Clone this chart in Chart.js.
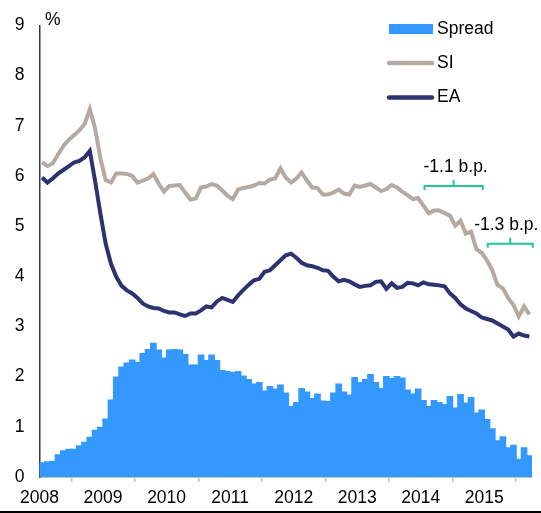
<!DOCTYPE html>
<html>
<head>
<meta charset="utf-8">
<script src="https://cdn.jsdelivr.net/npm/chart.js@4.4.1/dist/chart.umd.min.js"></script>
<style>
    html, body { margin: 0; padding: 0; background: #fff; }
    #wrap { position: relative; width: 541px; height: 513px; }
</style>
</head>
<body>
<div id="wrap"><canvas id="spreadChart"></canvas></div>
<script>
// monthly data, Jan 2008 .. Sep 2015
const years = ['2008', '2009', '2010', '2011', '2012', '2013', '2014', '2015'];

const spread = [
    0.28, 0.30, 0.31, 0.44, 0.52, 0.55, 0.55, 0.62, 0.69, 0.79, 0.93, 0.99,
    1.15, 1.53, 1.99, 2.19, 2.27, 2.33, 2.28, 2.46, 2.54, 2.66, 2.53, 2.37,
    2.53, 2.54, 2.53, 2.44, 2.23, 2.23, 2.43, 2.32, 2.43, 2.32, 2.12, 2.10,
    2.08, 2.10, 2.01, 1.94, 1.85, 1.88, 1.71, 1.80, 1.75, 1.83, 1.67, 1.40,
    1.48, 1.76, 1.69, 1.56, 1.65, 1.51, 1.50, 1.67, 1.85, 1.69, 1.63, 1.98,
    1.88, 1.94, 2.04, 1.88, 1.76, 2.00, 1.96, 2.00, 1.97, 1.73, 1.65, 1.75,
    1.52, 1.40, 1.52, 1.48, 1.44, 1.60, 1.37, 1.64, 1.47, 1.58, 1.27, 1.33,
    1.14, 0.96, 0.72, 0.80, 0.58, 0.63, 0.35, 0.58, 0.42
];

const si = [
    6.27, 6.20, 6.25, 6.43, 6.60, 6.72, 6.81, 6.91, 7.03, 7.33, 6.95, 6.35,
    5.92, 5.87, 6.05, 6.05, 6.04, 6.00, 5.87, 5.91, 5.95, 6.04, 5.85, 5.69,
    5.80, 5.81, 5.82, 5.67, 5.53, 5.55, 5.77, 5.79, 5.84, 5.81, 5.71, 5.61,
    5.54, 5.73, 5.76, 5.78, 5.81, 5.86, 5.85, 5.93, 5.95, 6.15, 5.97, 5.87,
    5.95, 6.07, 5.91, 5.77, 5.76, 5.63, 5.63, 5.67, 5.73, 5.65, 5.63, 5.81,
    5.78, 5.81, 5.84, 5.77, 5.70, 5.74, 5.82, 5.77, 5.69, 5.62, 5.54, 5.56,
    5.41, 5.26, 5.31, 5.31, 5.26, 5.21, 5.01, 5.11, 4.85, 4.89, 4.54, 4.47,
    4.32, 4.12, 3.83, 3.76, 3.57, 3.43, 3.20, 3.40, 3.24
];

const ea = [
    5.97, 5.87, 5.95, 6.05, 6.12, 6.19, 6.27, 6.30, 6.37, 6.50, 5.90, 5.25,
    4.65, 4.25, 3.99, 3.81, 3.72, 3.66, 3.57, 3.46, 3.40, 3.37, 3.36, 3.31,
    3.28, 3.28, 3.24, 3.21, 3.26, 3.26, 3.32, 3.40, 3.38, 3.50, 3.57, 3.53,
    3.49, 3.62, 3.73, 3.83, 3.92, 3.95, 4.09, 4.12, 4.22, 4.32, 4.42, 4.45,
    4.37, 4.27, 4.22, 4.20, 4.17, 4.12, 4.11, 3.99, 3.90, 3.93, 3.90, 3.84,
    3.79, 3.81, 3.82, 3.89, 3.90, 3.75, 3.86, 3.77, 3.79, 3.87, 3.86, 3.82,
    3.88, 3.84, 3.83, 3.82, 3.80, 3.66, 3.57, 3.44, 3.36, 3.31, 3.26, 3.18,
    3.15, 3.12, 3.06, 3.00, 2.94, 2.80, 2.86, 2.82, 2.80
];

const seriesNames = ['Spread', 'SI', 'EA'];
const noteTexts = ['-1.1 b.p.', '-1.3 b.p.'];

const FONT = '"Liberation Sans", Arial, sans-serif';
const BLUE = '#3399ff';
const SI_COLOR = '#b5aaa2';
const EA_COLOR = '#2d336f';
const NOTE_COLOR = '#22c995';

const toPoints = arr => arr.map((v, i) => ({ x: i + 0.5, y: v }));

// legend, % label, bracket notes, frame line
const extras = {
    id: 'extras',
    afterDraw(chart) {
        const ctx = chart.ctx;
        const xs = chart.scales.x;
        const ys = chart.scales.y;
        ctx.save();
        ctx.fillStyle = '#000';
        ctx.font = '17.5px ' + FONT;
        ctx.textBaseline = 'middle';
        ctx.textAlign = 'left';
        ctx.fillText('%', 45, 20);

        // legend
        ctx.fillStyle = BLUE;
        ctx.fillRect(389, 24, 44, 10);
        ctx.lineCap = 'round';
        ctx.lineWidth = 4.5;
        ctx.strokeStyle = SI_COLOR;
        ctx.beginPath(); ctx.moveTo(389, 63); ctx.lineTo(432, 63); ctx.stroke();
        ctx.strokeStyle = EA_COLOR;
        ctx.beginPath(); ctx.moveTo(389, 97.5); ctx.lineTo(432, 97.5); ctx.stroke();
        ctx.fillStyle = '#000';
        ctx.fillText(seriesNames[0], 437, 29);
        ctx.fillText(seriesNames[1], 437, 63);
        ctx.fillText(seriesNames[2], 437, 97.5);

        // brackets
        const brackets = [
            { from: 72.7, to: 83.7, level: 5.8, label: 6.17, shift: 2 },
            { from: 84.65, to: 93.15, level: 4.65, label: 5.01, shift: -4 }
        ];
        ctx.strokeStyle = NOTE_COLOR;
        ctx.lineWidth = 2;
        ctx.lineCap = 'butt';
        brackets.forEach((b, k) => {
            const x1 = xs.getPixelForValue(b.from);
            const x2 = xs.getPixelForValue(b.to);
            const y = ys.getPixelForValue(b.level);
            const xm = (x1 + x2) / 2;
            ctx.beginPath();
            ctx.moveTo(x1, y + 4); ctx.lineTo(x1, y); ctx.lineTo(x2, y); ctx.lineTo(x2, y + 4);
            ctx.moveTo(xm, y); ctx.lineTo(xm, y - 6);
            ctx.stroke();
            ctx.textAlign = 'center';
            ctx.fillStyle = '#000';
            ctx.fillText(noteTexts[k], xm + b.shift, ys.getPixelForValue(b.label));
        });

        // bottom frame line
        ctx.fillStyle = '#000';
        ctx.fillRect(0, 511, chart.width, 2);
        ctx.restore();
    }
};

new Chart(document.getElementById('spreadChart'), {
    type: 'bar',
    data: {
        datasets: [
            {
                type: 'line',
                label: 'EA',
                data: toPoints(ea),
                borderColor: EA_COLOR,
                borderWidth: 4,
                pointRadius: 0,
                tension: 0,
                order: 1
            },
            {
                type: 'line',
                label: 'SI',
                data: toPoints(si),
                borderColor: SI_COLOR,
                borderWidth: 4,
                pointRadius: 0,
                tension: 0,
                order: 2
            },
            {
                label: 'Spread',
                data: toPoints(spread),
                backgroundColor: BLUE,
                borderWidth: 0,
                inflateAmount: 0.7,
                barPercentage: 1,
                categoryPercentage: 1,
                order: 3
            }
        ]
    },
    options: {
        responsive: true,
        maintainAspectRatio: false,
        animation: false,
        layout: { padding: { top: 20, right: 9, left: 0, bottom: 0 } },
        plugins: {
            legend: { display: false },
            tooltip: { enabled: false }
        },
        scales: {
            x: {
                type: 'linear',
                min: 0,
                max: 93,
                offset: false,
                afterFit: scale => { scale.height = 36; },
                grid: {
                    display: true,
                    drawOnChartArea: false,
                    drawTicks: true,
                    tickLength: 5,
                    color: '#c4c4c4',
                    lineWidth: 1.5
                },
                border: { display: true, color: '#c4c4c4', width: 2 },
                ticks: {
                    stepSize: 12,
                    autoSkip: false,
                    maxRotation: 0,
                    padding: 6,
                    color: '#000',
                    font: { family: FONT, size: 17.5 },
                    callback: v => years[Math.round(v / 12)]
                }
            },
            y: {
                min: 0,
                max: 9,
                afterFit: scale => { scale.width = 39.5; },
                grid: { display: false, drawTicks: false },
                border: { display: true, color: EA_COLOR, width: 1.5 },
                ticks: {
                    stepSize: 1,
                    padding: 15,
                    color: '#000',
                    font: { family: FONT, size: 17.5 }
                }
            }
        }
    },
    plugins: [extras]
});
</script>
</body>
</html>
